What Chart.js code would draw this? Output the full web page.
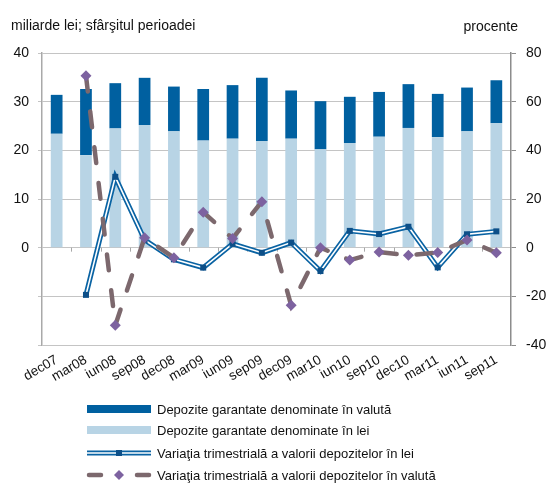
<!DOCTYPE html>
<html><head><meta charset="utf-8">
<script src="https://cdn.jsdelivr.net/npm/chart.js@4/dist/chart.umd.min.js"></script>
<style>html,body{margin:0;padding:0;background:#fff;}#wrap{width:547px;height:483px;}</style>
</head><body><div id="wrap"><canvas id="c" width="547" height="483"></canvas></div>
<script>
const categories = ['dec07','mar08','iun08','sep08','dec08','mar09','iun09','sep09','dec09','mar10','iun10','sep10','dec10','mar11','iun11','sep11'];
const depLei    = [23.4, 19.0, 24.5, 25.2, 23.9, 22.0, 22.4, 21.9, 22.4, 20.2, 21.5, 22.8, 24.6, 22.7, 23.9, 25.6];
const depValuta = [8.0, 13.6, 9.3, 9.7, 9.2, 10.6, 11.0, 13.0, 9.9, 9.9, 9.5, 9.2, 9.0, 8.9, 9.0, 8.8];
const varLei    = [null, -19.4, 29.1, 3.2, -4.8, -8.2, 1.6, -2.1, 2.1, -9.6, 6.9, 5.6, 8.6, -8.1, 5.5, 6.7];
const varValuta = [null, 70.7, -31.9, 4.1, -4.1, 14.6, 3.8, 18.9, -23.7, 0.0, -5.1, -1.8, -3.1, -2.0, 3.2, -2.1];
const leftTickMin = -20, leftTickMax = 40, leftTickStep = 10;
const rightTickMin = -40, rightTickMax = 80, rightTickStep = 20;
const legendLabels = [
  'Depozite garantate denominate în valută',
  'Depozite garantate denominate în lei',
  'Variaţia trimestrială a valorii depozitelor în lei',
  'Variaţia trimestrială a valorii depozitelor în valută'
];
const leftTitle = 'miliarde lei; sfârşitul perioadei';
const rightTitle = 'procente';

const C_DARK = '#0060a0', C_LIGHT = '#b8d4e5', C_LINE = '#0a63a3', C_MARK = '#0d4f88';
const C_DASH = '#7c686d', C_DIAM = '#7d62a0', C_GRID = '#c4c4c4';
const FONT = '"Liberation Sans", Arial, sans-serif';

function drawDiamond(ctx, x, y, r) {
  ctx.beginPath();
  ctx.moveTo(x, y - r); ctx.lineTo(x + r, y); ctx.lineTo(x, y + r); ctx.lineTo(x - r, y); ctx.closePath();
  ctx.fillStyle = C_DIAM; ctx.fill();
}
function drawSquare(ctx, x, y) {
  ctx.fillStyle = C_MARK;
  ctx.fillRect(x - 3, y - 3, 6, 6);
}

const extras = {
  id: 'extras',
  afterDatasetDraw(chart, args) {
    if (args.index !== 2) return;
    const ctx = chart.ctx;
    const pts = args.meta.data.filter(p => !p.skip);
    ctx.save();
    ctx.strokeStyle = '#ffffff'; ctx.lineWidth = 1.6; ctx.lineJoin = 'miter';
    ctx.beginPath();
    pts.forEach((p, i) => { if (i === 0) ctx.moveTo(p.x, p.y); else ctx.lineTo(p.x, p.y); });
    ctx.stroke();
    pts.forEach(p => drawSquare(ctx, p.x, p.y));
    ctx.restore();
  },
  beforeDatasetsDraw(chart) {
    const ctx = chart.ctx, x = chart.scales.x, y = chart.scales.y;
    const y0 = y.getPixelForValue(0);
    const w = (x.right - x.left) / categories.length;
    ctx.save();
    ctx.strokeStyle = '#a8a8a8'; ctx.lineWidth = 1;
    for (let i = 1; i < categories.length; i++) {
      const xx = Math.round(x.left + i * w) + 0.5;
      ctx.beginPath(); ctx.moveTo(xx, y0); ctx.lineTo(xx, y0 + 4); ctx.stroke();
    }
    ctx.restore();
  },
  afterDraw(chart) {
    const ctx = chart.ctx;
    ctx.save();
    ctx.fillStyle = '#111';
    ctx.font = '14px ' + FONT;
    ctx.textBaseline = 'middle';
    ctx.textAlign = 'left';
    ctx.fillText(leftTitle, 11, 26);
    ctx.textAlign = 'right';
    ctx.fillText(rightTitle, 518, 27);
    // legend
    const sx = 87, ex = 151, tx = 157;
    const rows = [409, 430, 453, 475];
    ctx.font = '13px ' + FONT;
    ctx.textAlign = 'left';
    ctx.fillStyle = C_DARK; ctx.fillRect(sx, rows[0] - 4, ex - sx, 8);
    ctx.fillStyle = C_LIGHT; ctx.fillRect(sx, rows[1] - 4, ex - sx, 8);
    ctx.strokeStyle = C_LINE; ctx.lineWidth = 5;
    ctx.beginPath(); ctx.moveTo(sx, rows[2]); ctx.lineTo(ex, rows[2]); ctx.stroke();
    ctx.strokeStyle = '#fff'; ctx.lineWidth = 1.6;
    ctx.beginPath(); ctx.moveTo(sx, rows[2]); ctx.lineTo(ex, rows[2]); ctx.stroke();
    drawSquare(ctx, (sx + ex) / 2, rows[2]);
    ctx.strokeStyle = C_DASH; ctx.lineWidth = 4.5; ctx.lineCap = 'round';
    ctx.beginPath(); ctx.moveTo(sx + 2, rows[3]); ctx.lineTo(sx + 14, rows[3]); ctx.stroke();
    ctx.beginPath(); ctx.moveTo(ex - 14, rows[3]); ctx.lineTo(ex - 2, rows[3]); ctx.stroke();
    drawDiamond(ctx, (sx + ex) / 2, rows[3], 5);
    ctx.fillStyle = '#111';
    legendLabels.forEach((t, i) => ctx.fillText(t, tx, rows[i] + 1));
    ctx.restore();
  }
};

new Chart(document.getElementById('c'), {
  data: {
    labels: categories,
    datasets: [
      { type: 'bar', label: legendLabels[1], data: depLei, backgroundColor: C_LIGHT, yAxisID: 'y', stack: 's', order: 4,
        barPercentage: 0.4, categoryPercentage: 1.0 },
      { type: 'bar', label: legendLabels[0], data: depValuta, backgroundColor: C_DARK, yAxisID: 'y', stack: 's', order: 5,
        barPercentage: 0.4, categoryPercentage: 1.0 },
      { type: 'line', label: legendLabels[2], data: varLei, yAxisID: 'y2', borderColor: C_LINE, borderWidth: 5,
        pointRadius: 0, tension: 0, spanGaps: false, order: 2, borderJoinStyle: 'miter' },
      { type: 'line', label: legendLabels[3], data: varValuta, yAxisID: 'y2', borderColor: C_DASH, borderWidth: 4.5,
        borderDash: [16, 20], borderCapStyle: 'round', pointStyle: 'rectRot', pointRadius: 5.5,
        pointBackgroundColor: C_DIAM, pointBorderColor: C_DIAM, pointBorderWidth: 0, tension: 0, order: 1 }
    ]
  },
  options: {
    responsive: false, animation: false, devicePixelRatio: 1,
    layout: { padding: { top: 53, left: 0, right: 0, bottom: 0 } },
    plugins: { legend: { display: false }, tooltip: { enabled: false } },
    scales: {
      x: {
        stacked: true, offset: true,
        grid: { display: false, drawTicks: false },
        border: { display: false },
        ticks: { color: '#111', font: { family: FONT, size: 13.5 }, maxRotation: 30, minRotation: 30, padding: 7, autoSkip: false },
        afterFit(s) { s.height = 138; }
      },
      y: {
        position: 'left', stacked: true, min: leftTickMin, max: leftTickMax,
        ticks: { stepSize: leftTickStep, color: '#111', font: { family: FONT, size: 14 }, padding: 9,
          callback: v => (v < 0 ? '' : v) },
        grid: { color: C_GRID, lineWidth: 1, tickLength: 4, drawTicks: true },
        border: { display: true, color: '#a9a9a9', width: 1.5 },
        afterFit(s) { s.width = 42; }
      },
      y2: {
        position: 'right', min: rightTickMin, max: rightTickMax,
        ticks: { stepSize: rightTickStep, color: '#111', font: { family: FONT, size: 14 }, padding: 10 },
        grid: { drawOnChartArea: false, color: '#8c8c8c', tickLength: 5, drawTicks: true },
        border: { display: true, color: '#8c8c8c', width: 1.5 },
        afterFit(s) { s.width = 36; }
      }
    }
  },
  plugins: [extras]
});
</script></body></html>
